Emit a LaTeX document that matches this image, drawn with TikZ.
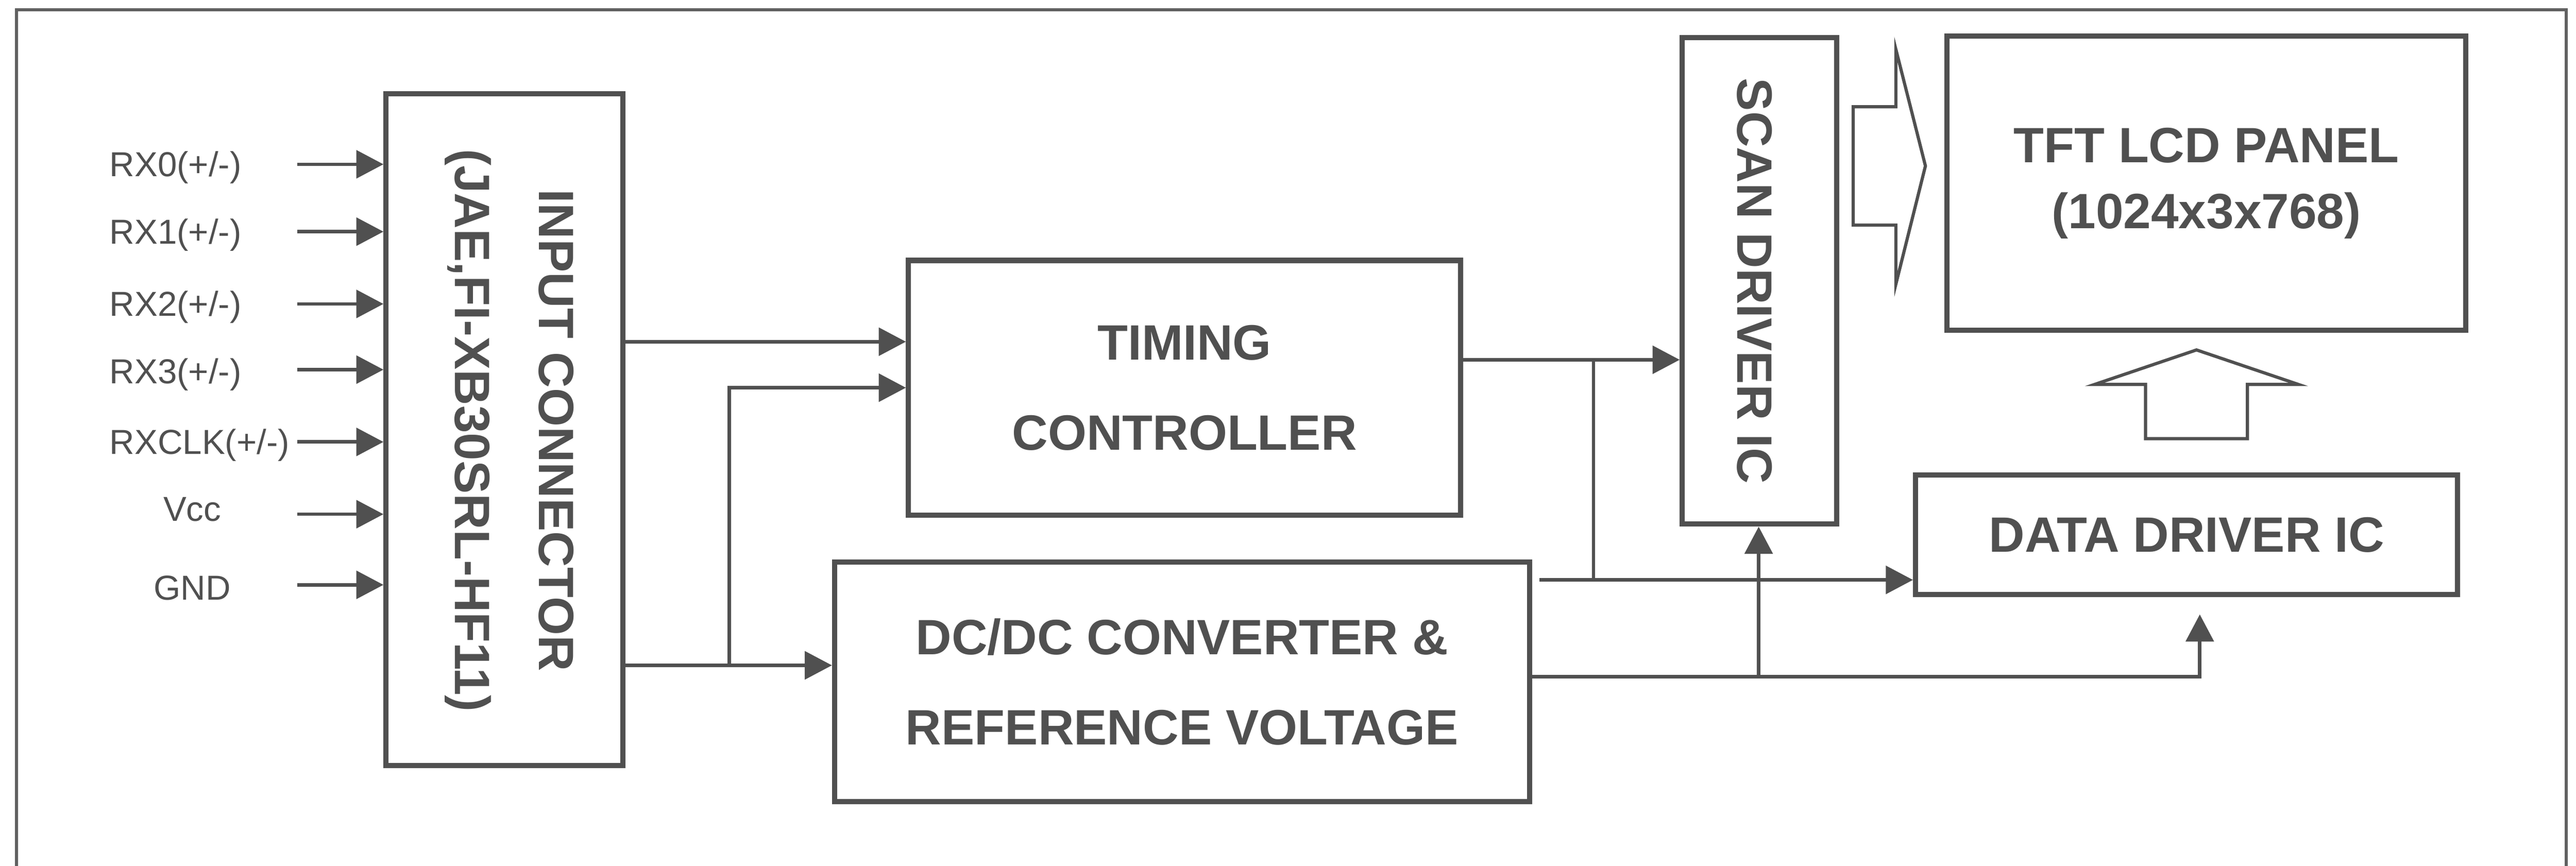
\documentclass[tikz,border=0pt]{standalone}
\usepackage{fontspec}
\setmainfont{Liberation Sans}
\usetikzlibrary{positioning,arrows.meta}
\definecolor{ink}{RGB}{80,80,80}
\tikzset{
  blk/.style={draw=ink, line width=0.9pt, inner sep=0pt, text=ink, align=center,
    font=\bfseries\fontsize{8.6}{15.6}\selectfont},
  blktxt/.style={inner sep=0pt, text=ink, align=center,
    font=\bfseries\fontsize{8.6}{14.5}\selectfont},
  pin/.style={inner sep=0pt, text=ink, font=\fontsize{6}{7}\selectfont},
  wire/.style={draw=ink, line width=0.6pt},
  sig/.style={wire, -{Triangle[length=4.7pt,width=4.8pt]}},
  hollow/.style={draw=ink, line width=0.55pt, line join=miter},
  frm/.style={draw=ink!90, line width=0.5pt}
}
\begin{document}
\begin{tikzpicture}[x=0.1mm, y=-0.1mm]
  \useasboundingbox (0,0) rectangle (1568,527);
  \draw[frm] (10,560) |- (1562,6) -- (1562,560);

  % blocks
  \node[blk, minimum width=14.4mm, minimum height=40.9mm] (inconn) at (307,261.5) {};
  \node[blktxt, rotate=-90] (inconnlbl) at (310,262) {INPUT CONNECTOR\\(JAE,FI-XB30SRL-HF11)};
  \node[blk, minimum width=33.6mm, minimum height=15.5mm] (timing) at (721,236) {TIMING\\CONTROLLER};
  \node[blk, minimum width=42.3mm, minimum height=14.6mm] (dcdc) at (719.5,415) {DC/DC CONVERTER \&\\REFERENCE VOLTAGE};
  \node[blk, minimum width=9.4mm, minimum height=29.6mm] (scan) at (1071,171) {};
  \node[blktxt, rotate=-90] (scanlbl) at (1068,171) {SCAN DRIVER IC};
  \node[blk, minimum width=31.6mm, minimum height=17.9mm,
    font=\bfseries\fontsize{8.6}{11.4}\selectfont] (panel) at (1343,111.5) {TFT LCD PANEL\\(1024x3x768)};
  \node[blk, minimum width=33mm, minimum height=7.3mm] (datadrv) at (1331,325.5) {DATA DRIVER IC};

  % input signals
  \node[pin, anchor=west] (rx0lbl) at (66,102) {RX0(+/-)};
  \node[pin, anchor=west] (rx1lbl) at (66,143) {RX1(+/-)};
  \node[pin, anchor=west] (rx2lbl) at (66,187) {RX2(+/-)};
  \node[pin, anchor=west] (rx3lbl) at (66,228) {RX3(+/-)};
  \node[pin, anchor=west] (rxclklbl) at (66,271) {RXCLK(+/-)};
  \node[pin] (vcclbl) at (117,310) {Vcc};
  \node[pin] (gndlbl) at (117,358) {GND};
  \foreach \n/\yy in {rx0/100, rx1/141, rx2/185, rx3/225, rxclk/269, vcc/313, gnd/356} {
    \coordinate (\n) at (181,\yy);
    \draw[sig] (\n) -- (\n -| inconn.west);
  }

  % connector to timing and dc/dc
  \coordinate (tap1) at (444,405);
  \draw[sig] (inconn.east |- 0,208) -- (timing.west |- 0,208);
  \draw[sig] (inconn.east |- tap1) -- (dcdc.west |- tap1);
  \draw[sig] (tap1) |- (timing.west |- 0,236);

  % timing to drivers
  \coordinate (tap2) at (970,219);
  \coordinate (dd1) at (937,353);
  \draw[sig] (timing.east |- tap2) -- (scan.west |- tap2);
  \draw[wire] (tap2) -- (tap2 |- dd1);
  \draw[sig] (dd1) -- (datadrv.west |- dd1);

  % dc/dc to drivers
  \coordinate (tap3) at (1070.5,412);
  \coordinate (ddin) at (1339,374);
  \draw[sig] (dcdc.east |- tap3) -| (ddin);
  \draw[sig] (tap3) -- (scan.south -| tap3);

  % hollow arrows
  \draw[hollow] (1128,65) -- (1154,65) -- (1154,30) -- (1172,101) -- (1154,173) -- (1154,137) -- (1128,137) -- cycle;
  \draw[hollow] (1306,267) -- (1306,234) -- (1275,234) -- (1337,213) -- (1399,234) -- (1368,234) -- (1368,267) -- cycle;
\end{tikzpicture}
\end{document}
